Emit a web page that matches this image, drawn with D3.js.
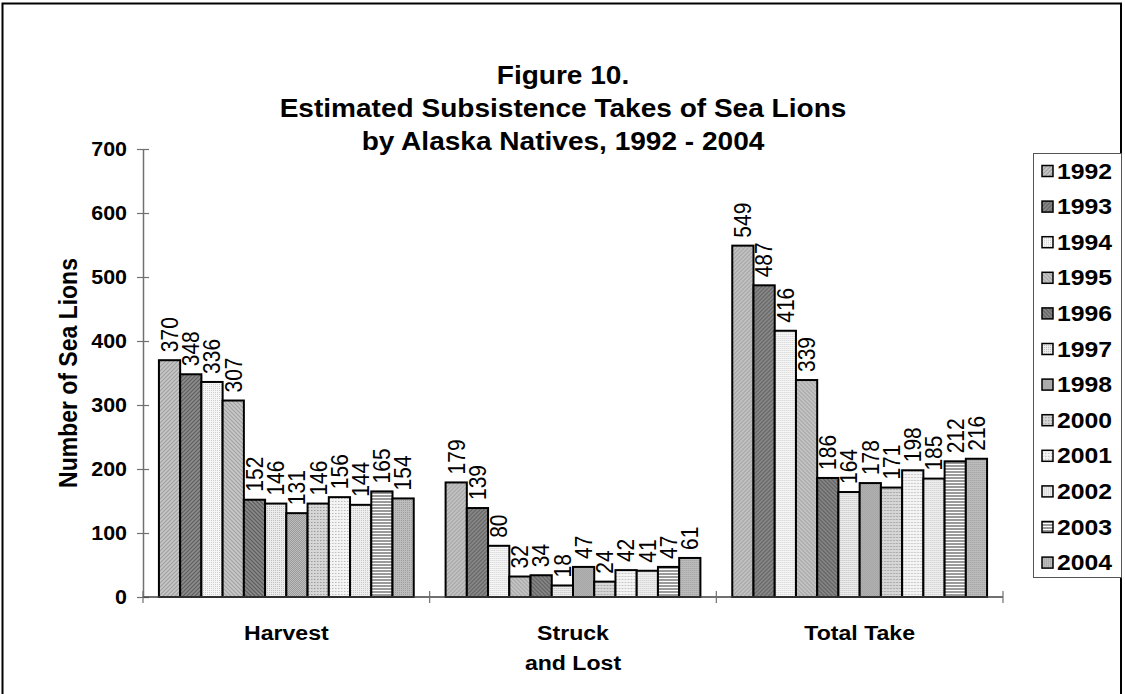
<!DOCTYPE html>
<html><head><meta charset="utf-8">
<script src="https://cdn.jsdelivr.net/npm/d3@7/dist/d3.min.js"></script>
<style>
html,body{margin:0;padding:0;background:#fff;}
svg{display:block;font-family:"Liberation Sans",Arial,sans-serif;}
</style></head>
<body>
<svg id="chart" width="1125" height="694"></svg>
<script>
// ---- data ----
const years = ["1992","1993","1994","1995","1996","1997","1998","2000","2001","2002","2003","2004"];
const categories = ["Harvest", "Struck\nand Lost", "Total Take"];
const harvest    = [370, 348, 336, 307, 152, 146, 131, 146, 156, 144, 165, 154];
const struckLost = [179, 139,  80,  32,  34,  18,  47,  24,  42,  41,  47,  61];
const totalTake  = [549, 487, 416, 339, 186, 164, 178, 171, 198, 185, 212, 216];
const yTicks = [0, 100, 200, 300, 400, 500, 600, 700];
const titleLines = ["Figure 10.", "Estimated Subsistence Takes of Sea Lions", "by Alaska Natives, 1992 - 2004"];
const yTitle = "Number of Sea Lions";

const seriesByCategory = [harvest, struckLost, totalTake];
const rows = [];
categories.forEach((c, ci) => years.forEach((yr, yi) => rows.push({cat: c, year: yr, yi, value: seriesByCategory[ci][yi]})));

// horizontal stretch of the original picture's text
const SX = 1.1;

// ---- styles (patterns) ----
const patternSpecs = [
  {bg:"#c6c6c6", fg:"#a0a0a0", kind:"diagF"},
  {bg:"#8c8c8c", fg:"#5e5e5e", kind:"diagF"},
  {bg:"#f6f6f6", fg:"#cfcfcf", kind:"dots2"},
  {bg:"#c8c8c8", fg:"#a2a2a2", kind:"diagB"},
  {bg:"#8a8a8a", fg:"#5a5a5a", kind:"diagB"},
  {bg:"#ececec", fg:"#c0c0c0", kind:"dots2"},
  {bg:"#bdbdbd", fg:"#9a9a9a", kind:"check"},
  {bg:"#d6d6d6", fg:"#9c9c9c", kind:"dots3"},
  {bg:"#f4f4f4", fg:"#bdbdbd", kind:"dots3"},
  {bg:"#eeeeee", fg:"#c8c8c8", kind:"dots2"},
  {bg:"#ffffff", fg:"#9a9a9a", kind:"hstripe"},
  {bg:"#bcbcbc", fg:"#9e9e9e", kind:"dots2"}
];

const svg = d3.select("#chart");
const defs = svg.append("defs");
patternSpecs.forEach((s, i) => {
  let w = 4, h = 4;
  if (s.kind === "dots3") { w = 3; h = 3; }
  if (s.kind === "hstripe") { w = 4; h = 3; }
  if (s.kind === "dots2" || s.kind === "check") { w = 2; h = 2; }
  const p = defs.append("pattern").attr("id", "pat" + i)
    .attr("patternUnits", "userSpaceOnUse").attr("width", w).attr("height", h);
  p.append("rect").attr("width", w).attr("height", h).attr("fill", s.bg);
  if (s.kind === "diagF") {
    p.append("path").attr("d", "M0,4 L4,0 M-1,1 L1,-1 M3,5 L5,3").attr("stroke", s.fg).attr("stroke-width", 1.2);
  } else if (s.kind === "diagB") {
    p.append("path").attr("d", "M0,0 L4,4 M-1,3 L1,5 M3,-1 L5,1").attr("stroke", s.fg).attr("stroke-width", 1.2);
  } else if (s.kind === "dots2") {
    p.append("rect").attr("width", 1).attr("height", 1).attr("fill", s.fg);
  } else if (s.kind === "check") {
    p.append("rect").attr("width", 1).attr("height", 1).attr("fill", s.fg);
    p.append("rect").attr("x", 1).attr("y", 1).attr("width", 1).attr("height", 1).attr("fill", s.fg);
  } else if (s.kind === "dots3") {
    p.append("rect").attr("width", 1).attr("height", 1).attr("fill", s.fg);
    p.append("rect").attr("x", 1).attr("y", 0).attr("width", 1).attr("height", 1).attr("fill", s.fg).attr("opacity", 0.5);
  } else if (s.kind === "hstripe") {
    p.append("rect").attr("width", w).attr("height", 2).attr("fill", s.fg);
  }
});
const fillFor = i => `url(#pat${i})`;

// ---- frame ----
svg.append("rect").attr("x", 2.5).attr("y", 3.5).attr("width", 1118.5).attr("height", 720)
  .attr("fill", "none").attr("stroke", "#000").attr("stroke-width", 2);

// ---- scales ----
const plot = {left: 143, right: 1003, top: 149, bottom: 597};
const y = d3.scaleLinear().domain([0, 700]).range([plot.bottom, plot.top]);
const x0 = d3.scaleBand().domain(categories).range([plot.left, plot.right]).padding(0);
const bw = x0.bandwidth() / 13.5;
const x1 = d3.scaleBand().domain(years).range([0.75 * bw, x0.bandwidth() - 0.75 * bw]).padding(0);

// ---- title ----
const titleY = [84, 117, 150];
svg.append("g").selectAll("text").data(titleLines).join("text")
  .attr("transform", (d, i) => `translate(563,${titleY[i]}) scale(${SX},1)`)
  .attr("text-anchor", "middle").attr("font-weight", "bold").attr("font-size", 25.5)
  .text(d => d);

// ---- y axis ----
const yAxis = svg.append("g").attr("transform", `translate(${plot.left},0)`)
  .call(d3.axisLeft(y).tickValues(yTicks).tickSizeInner(6).tickSizeOuter(0).tickPadding(10));
yAxis.select(".domain").attr("stroke", "#707070").attr("stroke-width", 1.5);
yAxis.selectAll(".tick line").attr("x1", 6).attr("x2", -6).attr("stroke", "#707070").attr("stroke-width", 1.2);
yAxis.selectAll(".tick text").attr("x", 0).attr("transform", `translate(-16,0) scale(${SX},1)`)
  .attr("font-size", 19.5).attr("font-weight", "bold").attr("fill", "#000")
  .attr("font-family", "Liberation Sans, Arial, sans-serif");

svg.append("text").attr("transform", `translate(68,373) scale(${SX},1) rotate(-90)`)
  .attr("text-anchor", "middle").attr("dy", "0.35em").attr("font-weight", "bold").attr("font-size", 23).text(yTitle);

// ---- bars ----
const groups = svg.append("g").selectAll("g").data(categories).join("g")
  .attr("transform", d => `translate(${x0(d)},0)`);
groups.selectAll("rect").data(c => rows.filter(r => r.cat === c)).join("rect")
  .attr("x", d => x1(d.year)).attr("width", x1.bandwidth())
  .attr("y", d => y(d.value)).attr("height", d => y(0) - y(d.value))
  .attr("fill", d => fillFor(d.yi)).attr("stroke", "#000").attr("stroke-width", 2);
groups.selectAll("text.val").data(c => rows.filter(r => r.cat === c)).join("text")
  .attr("class", "val")
  .attr("transform", d => `translate(${x1(d.year) + x1.bandwidth() / 2},${y(d.value) - 8}) scale(${SX},1) rotate(-90)`)
  .attr("dy", "0.36em").attr("font-size", 21).text(d => d.value);

// ---- x axis ----
const xAxis = svg.append("g");
xAxis.append("line").attr("x1", plot.left).attr("x2", plot.right).attr("y1", plot.bottom).attr("y2", plot.bottom)
  .attr("stroke", "#404040").attr("stroke-width", 1.5);
const boundaries = categories.map(c => x0(c)).concat([x0(categories[categories.length - 1]) + x0.bandwidth()]);
xAxis.selectAll("line.tk").data(boundaries).join("line").attr("class", "tk")
  .attr("x1", d => d).attr("x2", d => d).attr("y1", plot.bottom - 6).attr("y2", plot.bottom + 6)
  .attr("stroke", "#707070").attr("stroke-width", 1.2);
const catLabels = xAxis.selectAll("text").data(categories).join("text")
  .attr("transform", d => `translate(${x0(d) + x0.bandwidth() / 2},640) scale(${SX},1)`)
  .attr("text-anchor", "middle").attr("font-weight", "bold").attr("font-size", 21);
catLabels.selectAll("tspan").data(d => d.split("\n")).join("tspan")
  .attr("x", 0).attr("dy", (d, i) => i === 0 ? 0 : 30).text(d => d);

// ---- legend ----
const leg = svg.append("g");
leg.append("rect").attr("x", 1033.5).attr("y", 153.5).attr("width", 88).attr("height", 424)
  .attr("fill", "#fff").attr("stroke", "#555").attr("stroke-width", 1);
const legItems = leg.selectAll("g").data(years).join("g")
  .attr("transform", (d, i) => `translate(1042,${171 + i * 35.6})`);
legItems.append("rect").attr("x", 0).attr("y", -5.5).attr("width", 11).attr("height", 11)
  .attr("fill", (d, i) => fillFor(i)).attr("stroke", "#000").attr("stroke-width", 1.5);
legItems.append("text").attr("transform", `translate(15,7.5) scale(${SX},1)`)
  .attr("font-weight", "bold").attr("font-size", 22.5).text(d => d);
</script>
</body></html>
